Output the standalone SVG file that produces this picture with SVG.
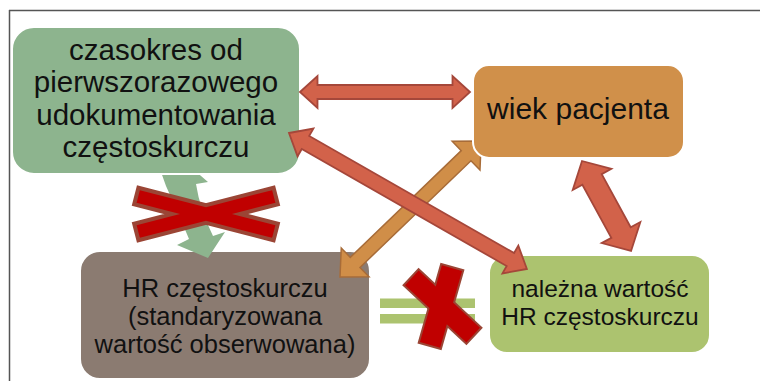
<svg xmlns="http://www.w3.org/2000/svg" width="760" height="381" viewBox="0 0 760 381">
<style>
.box{stroke:#ffffff;stroke-width:2}
.t{font-family:"Liberation Sans",Arial,sans-serif;fill:#111;text-anchor:middle}
.red{fill:#D2624A;stroke:#A5473A;stroke-width:1.8;stroke-linejoin:miter}
.org{fill:#D08E48;stroke:#A86C38;stroke-width:1.5}
.grn{fill:#8DB48E}
.xr{fill:#C00000}
.xs{fill:#C00000;stroke:#9B4535;stroke-width:4}
.eq{fill:#ACC36F}
</style>
<rect width="760" height="381" fill="#fff"/>
<g id="frame" fill="none" stroke="#555" stroke-width="1.5">
<line x1="9" y1="10.5" x2="760" y2="10.5"/>
<line x1="9.5" y1="10" x2="9.5" y2="381"/>
</g>
<g id="node-hr">
<rect class="box" x="80" y="251" width="290" height="128" rx="20" fill="#8B7B71"/>
<text class="t" font-size="25.5" x="225" y="297">HR częstoskurczu</text>
<text class="t" font-size="25.5" x="225" y="325">(standaryzowana</text>
<text class="t" font-size="25.5" x="225" y="353">wartość obserwowana)</text>
</g>
<g id="node-nalezna">
<rect class="box" x="489" y="255" width="221" height="98" rx="18" fill="#ACC36F"/>
<text class="t" font-size="24.5" x="600" y="297">należna wartość</text>
<text class="t" font-size="24.5" x="600" y="325">HR częstoskurczu</text>
</g>
<g id="connectors">
<path class="grn" d="M186,163 L208,182 L196,184 Q200,210 213,236 L225,232 L208,258 L177,245 L189,239 Q178,212 166,186 L161,172 Z"/>
</g>
<g id="node-czasokres">
<rect class="box" x="12" y="27" width="288" height="147" rx="22" fill="#8DB48E"/>
<text class="t" font-size="29.5" x="156" y="60">czasokres od</text>
<text class="t" font-size="29.5" x="156" y="92.3">pierwszorazowego</text>
<text class="t" font-size="29.5" x="156" y="124.6">udokumentowania</text>
<text class="t" font-size="29.5" x="156" y="156.9">częstoskurczu</text>
</g>
<g id="connectors-2">
<polygon class="org" transform="translate(340,277) rotate(-43.9)" points="0,0 21,-20 21,-7 175,-7 175,-20 196,0 175,20 175,7 21,7 21,20"/>
</g>
<g id="node-wiek">
<rect class="box" x="473" y="65" width="211" height="93" rx="16" fill="#D0904A"/>
<text class="t" font-size="30" x="578" y="119">wiek pacjenta</text>
</g>
<g id="connectors-3">
<polygon class="red" transform="translate(300,92)" points="0,0 17.5,-16 17.5,-7 152.5,-7 152.5,-16 170,0 152.5,16 152.5,7 17.5,7 17.5,16"/>
<polygon class="red" transform="translate(289,133) rotate(29.75)" points="0,0 19,-16 19,-7.5 255,-7.5 255,-16 274,0 255,16 255,7.5 19,7.5 19,16"/>
<polygon class="red" transform="translate(582,161) rotate(61.4)" points="0,0 21,-22 21,-11 81.5,-11 81.5,-22 102.5,0 81.5,22 81.5,11 21,11 21,22"/>
<polygon class="xs" transform="translate(206,214)" points="33.95,0 71.83,9.8 67.57,26.26 0,8.78 -67.57,26.26 -71.83,9.8 -33.95,0 -71.83,-9.8 -67.57,-26.26 0,-8.78 67.57,-26.26 71.83,-9.8" stroke-width="2" stroke-linejoin="miter"/>
<rect class="eq" x="380" y="298.5" width="95" height="9.5"/>
<rect class="eq" x="380" y="314" width="95" height="9.5"/>
<g id="x2">
<rect class="xs" transform="translate(441,306.5) rotate(105.9)" x="-40" y="-10.5" width="80" height="21"/>
<rect class="xs" transform="translate(442.5,306.5) rotate(43.06)" x="-42" y="-10" width="84" height="20"/>
<rect class="xr" transform="translate(441,306.5) rotate(105.9)" x="-40" y="-10.5" width="80" height="21"/>
<rect class="xr" transform="translate(442.5,306.5) rotate(43.06)" x="-42" y="-10" width="84" height="20"/>
</g>
</g>
</svg>
